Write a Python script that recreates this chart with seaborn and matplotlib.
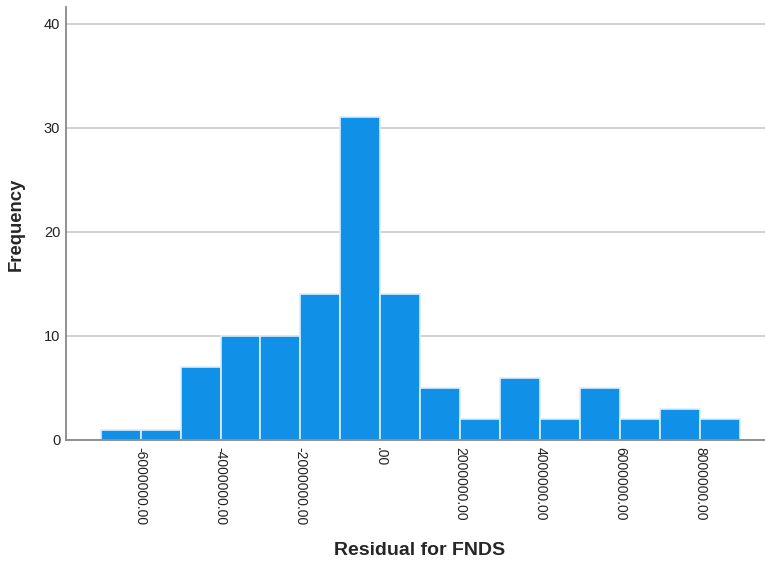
import numpy as np
import pandas as pd
import matplotlib
matplotlib.use("Agg")
import matplotlib.pyplot as plt
import seaborn as sns

# residual histogram, bins of 1,000,000 from -7,000,000 to 9,000,000
bin_start = -7000000
bin_width = 1000000
counts = [1, 1, 7, 10, 10, 14, 31, 14, 5, 2, 6, 2, 5, 2, 3, 2]
tick_values = [-6000000, -4000000, -2000000, 0, 2000000, 4000000, 6000000, 8000000]
tick_labels = ['-6000000.00', '-4000000.00', '-2000000.00', '.00',
               '2000000.00', '4000000.00', '6000000.00', '8000000.00']

edges = [bin_start + i * bin_width for i in range(len(counts) + 1)]
centers = [e + bin_width / 2 for e in edges[:-1]]
df = pd.DataFrame({'residual': centers, 'freq': counts})

sns.set_style('white')
plt.rcParams['font.family'] = ['Arial', 'Liberation Sans', 'DejaVu Sans']

fig = plt.figure(figsize=(7.65, 5.63), dpi=100)
ax = fig.add_axes([0.086, 0.2185, 0.914, 0.769])

sns.histplot(data=df, x='residual', weights='freq', bins=edges, ax=ax,
             color='#1190E8', alpha=1, edgecolor='#DDEEFB', linewidth=1.2)

ax.set_xlim(-7.87e6, 9.62e6)
ax.set_ylim(0, 41.6)
ax.set_yticks([0, 10, 20, 30, 40])
ax.yaxis.grid(True, color='#C8C8C8', linewidth=1.2)
ax.set_axisbelow(True)
ax.set_xticks(tick_values)
ax.set_xticklabels(tick_labels, rotation=-90, fontsize=10, color='#222222')
ax.tick_params(axis='y', labelsize=10.5, labelcolor='#222222', length=0, pad=4)
ax.tick_params(axis='x', length=0, pad=5)

for s in ['top', 'right']:
    ax.spines[s].set_visible(False)
for s in ['left', 'bottom']:
    ax.spines[s].set_color('#888888')
    ax.spines[s].set_linewidth(1.3)

ax.set_xlabel('Residual for FNDS', fontsize=14, fontweight='bold')
ax.set_ylabel('Frequency', fontsize=13.3, fontweight='bold')
ax.xaxis.set_label_coords(0.506, -0.2355)
ax.yaxis.set_label_coords(-0.0587, 0.497)

fig.savefig('out.png', dpi=100)
